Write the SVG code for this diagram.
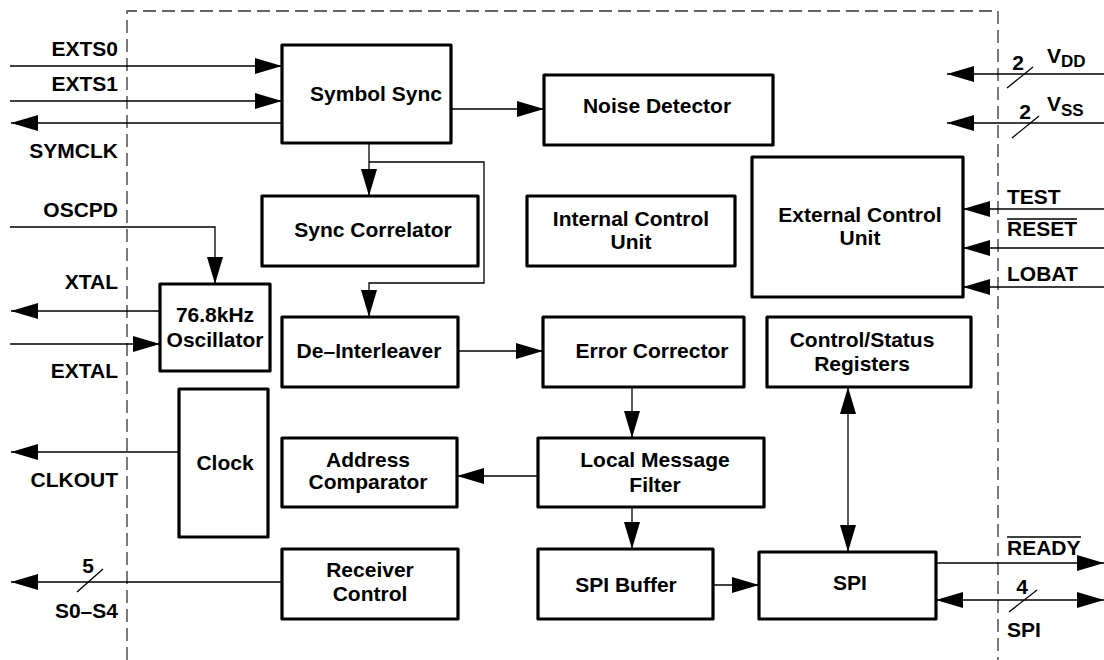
<svg xmlns="http://www.w3.org/2000/svg" width="1104" height="660" viewBox="0 0 1104 660">
  <style>
    text { font-family: "Liberation Sans", Arial, sans-serif; font-weight: bold; font-size: 21px; fill: #000; }
    .c { text-anchor: middle; }
    .r { text-anchor: end; }
    .box { fill: #fff; stroke: #000; stroke-width: 3.2; stroke-linejoin: round; }
    .wire { fill: none; stroke: #000; stroke-width: 1.3; }
    .bound { fill: none; stroke: #333; stroke-width: 1.3; stroke-dasharray: 13 6; }
    .sub { font-size: 17px; }
    .ovl { stroke: #000; stroke-width: 1.5; }
  </style>
  <defs>
    <marker id="arr" viewBox="0 0 27 16" refX="27" refY="8" markerWidth="27" markerHeight="16" markerUnits="userSpaceOnUse" orient="auto-start-reverse">
      <path d="M0,0 L27,8 L0,16 z" fill="#000"/>
    </marker>
  </defs>

  <rect width="1104" height="660" fill="#fff"/>

  <!-- chip boundary -->
  <path class="bound" d="M127,660 V11 H998 V660"/>

  <!-- connectors -->
  <g id="connectors">
    <line class="wire" x1="10" y1="66" x2="282" y2="66" marker-end="url(#arr)"/>
    <line class="wire" x1="10" y1="101" x2="282" y2="101" marker-end="url(#arr)"/>
    <line class="wire" x1="282" y1="123" x2="11" y2="123" marker-end="url(#arr)"/>
    <line class="wire" x1="451" y1="109" x2="544" y2="109" marker-end="url(#arr)"/>
    <line class="wire" x1="369" y1="143" x2="369" y2="196" marker-end="url(#arr)"/>
    <path class="wire" d="M369,162 H484 V283 H369 V317" marker-end="url(#arr)"/>
    <path class="wire" d="M10,227 H215 V284" marker-end="url(#arr)"/>
    <line class="wire" x1="160" y1="311" x2="11" y2="311" marker-end="url(#arr)"/>
    <line class="wire" x1="10" y1="344" x2="160" y2="344" marker-end="url(#arr)"/>
    <line class="wire" x1="458" y1="351" x2="543" y2="351" marker-end="url(#arr)"/>
    <line class="wire" x1="632" y1="387" x2="632" y2="438" marker-end="url(#arr)"/>
    <line class="wire" x1="538" y1="476" x2="457" y2="476" marker-end="url(#arr)"/>
    <line class="wire" x1="632" y1="507" x2="632" y2="549" marker-end="url(#arr)"/>
    <line class="wire" x1="713" y1="585" x2="759" y2="585" marker-end="url(#arr)"/>
    <line class="wire" x1="848" y1="387" x2="848" y2="552" marker-start="url(#arr)" marker-end="url(#arr)"/>
    <line class="wire" x1="179" y1="452" x2="11" y2="452" marker-end="url(#arr)"/>
    <line class="wire" x1="282" y1="582" x2="11" y2="582" marker-end="url(#arr)"/>
    <line class="wire" x1="1104" y1="74" x2="947" y2="74" marker-end="url(#arr)"/>
    <line class="wire" x1="1104" y1="123" x2="947" y2="123" marker-end="url(#arr)"/>
    <line class="wire" x1="1104" y1="209" x2="963" y2="209" marker-end="url(#arr)"/>
    <line class="wire" x1="1104" y1="248" x2="963" y2="248" marker-end="url(#arr)"/>
    <line class="wire" x1="1104" y1="287" x2="963" y2="287" marker-end="url(#arr)"/>
    <line class="wire" x1="936" y1="563" x2="1104" y2="563" marker-end="url(#arr)"/>
    <line class="wire" x1="936" y1="600" x2="1104" y2="600" marker-start="url(#arr)" marker-end="url(#arr)"/>
    <!-- bus width slashes -->
    <line class="wire" x1="1007" y1="88" x2="1033" y2="67"/>
    <line class="wire" x1="1012" y1="138" x2="1039" y2="116"/>
    <line class="wire" x1="1009" y1="612" x2="1037" y2="590"/>
    <line class="wire" x1="77" y1="592" x2="103" y2="569"/>
  </g>

  <!-- pin labels -->
  <g id="pins">
    <text class="r" x="118" y="56">EXTS0</text>
    <text class="r" x="118" y="91">EXTS1</text>
    <text class="r" x="118" y="158">SYMCLK</text>
    <text class="r" x="118" y="217">OSCPD</text>
    <text class="r" x="118" y="289">XTAL</text>
    <text class="r" x="118" y="378">EXTAL</text>
    <text class="r" x="118" y="487">CLKOUT</text>
    <text class="r" x="118" y="618">S0–S4</text>
    <text class="c" x="88" y="573">5</text>
    <text class="c" x="1018" y="70">2</text>
    <text x="1047" y="63">V<tspan class="sub" dy="4">DD</tspan></text>
    <text class="c" x="1025" y="119">2</text>
    <text x="1047" y="111">V<tspan class="sub" dy="5">SS</tspan></text>
    <text x="1007" y="204">TEST</text>
    <text x="1007" y="236">RESET</text>
    <line class="ovl" x1="1007" y1="219" x2="1077" y2="219"/>
    <text x="1007" y="281">LOBAT</text>
    <text x="1007" y="555">READY</text>
    <line class="ovl" x1="1007" y1="537" x2="1081" y2="537"/>
    <text class="c" x="1022" y="594">4</text>
    <text x="1007" y="637">SPI</text>
  </g>

  <!-- blocks -->
  <g id="symbol-sync"><rect class="box" x="282" y="45" width="169" height="98"/><text class="c" x="376" y="101">Symbol Sync</text></g>
  <g id="noise-detector"><rect class="box" x="544" y="75" width="229" height="70"/><text class="c" x="657" y="113">Noise Detector</text></g>
  <g id="sync-correlator"><rect class="box" x="262" y="196" width="216" height="70"/><text class="c" x="373" y="237">Sync Correlator</text></g>
  <g id="internal-control"><rect class="box" x="527" y="196" width="208" height="70"/><text class="c" x="631" y="226">Internal Control</text><text class="c" x="631" y="249">Unit</text></g>
  <g id="external-control"><rect class="box" x="752" y="157" width="211" height="140"/><text class="c" x="860" y="222">External Control</text><text class="c" x="860" y="245">Unit</text></g>
  <g id="oscillator"><rect class="box" x="160" y="284" width="110" height="87"/><text class="c" x="215" y="322">76.8kHz</text><text class="c" x="215" y="347">Oscillator</text></g>
  <g id="de-interleaver"><rect class="box" x="282" y="317" width="176" height="70"/><text class="c" x="369" y="358">De–Interleaver</text></g>
  <g id="error-corrector"><rect class="box" x="543" y="317" width="201" height="70"/><text class="c" x="652" y="358">Error Corrector</text></g>
  <g id="control-status"><rect class="box" x="767" y="317" width="204" height="70"/><text class="c" x="862" y="347">Control/Status</text><text class="c" x="862" y="371">Registers</text></g>
  <g id="clock"><rect class="box" x="179" y="389" width="89" height="148"/><text class="c" x="225" y="470">Clock</text></g>
  <g id="address-comparator"><rect class="box" x="282" y="438" width="175" height="69"/><text class="c" x="368" y="467">Address</text><text class="c" x="368" y="489">Comparator</text></g>
  <g id="local-message-filter"><rect class="box" x="538" y="438" width="226" height="69"/><text class="c" x="655" y="467">Local Message</text><text class="c" x="655" y="492">Filter</text></g>
  <g id="receiver-control"><rect class="box" x="282" y="549" width="176" height="70"/><text class="c" x="370" y="577">Receiver</text><text class="c" x="370" y="601">Control</text></g>
  <g id="spi-buffer"><rect class="box" x="538" y="549" width="175" height="70"/><text class="c" x="626" y="592">SPI Buffer</text></g>
  <g id="spi"><rect class="box" x="759" y="552" width="177" height="67"/><text class="c" x="850" y="590">SPI</text></g>
</svg>
